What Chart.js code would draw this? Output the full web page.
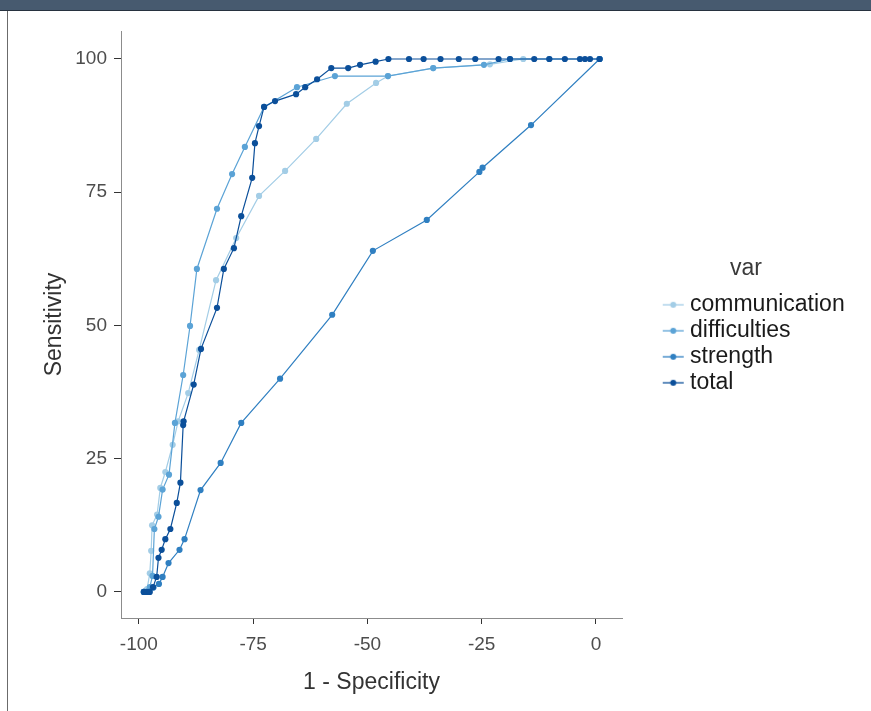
<!DOCTYPE html>
<html><head><meta charset="utf-8">
<script src="https://cdn.jsdelivr.net/npm/chart.js@4"></script>
<style>
html,body{margin:0;padding:0;background:#fff;}
#wrap{position:relative;width:871px;height:711px;overflow:hidden;background:#fff;}
#bar{position:absolute;left:0;top:0;width:871px;height:10px;background:#475a6f;border-bottom:1px solid #27323f;z-index:2;}
#edge{position:absolute;left:7px;top:11px;width:1px;height:700px;background:#6b6b6b;z-index:2;}
canvas{position:absolute;left:0;top:0;}
</style></head><body>
<div id="wrap"><canvas id="c" width="871" height="711"></canvas><div id="bar"></div><div id="edge"></div></div>
<script>
// ---- data ----
const seriesNames = ['communication', 'difficulties', 'strength', 'total'];

const communicationX = [-98.9, -98.2, -97.6, -97.3, -97.1, -96.0, -95.3, -94.2, -92.6, -91.4, -89.2, -86.8, -83.1, -78.7, -73.7, -68.0, -61.2, -54.5, -48.1, -45.5, -35.6, -23.2, -15.9, 0.8];
const communicationY = [0, 0.5, 3.5, 7.7, 12.5, 14.5, 19.5, 22.5, 27.6, 32.0, 37.3, 45.4, 58.5, 66.4, 74.3, 79.0, 85.0, 91.6, 95.5, 96.8, 98.3, 99.0, 100, 100];

const difficultiesX = [-98.9, -98.3, -97.6, -97.0, -96.6, -95.7, -94.8, -93.4, -92.1, -90.3, -88.8, -87.3, -82.9, -79.6, -76.8, -72.6, -65.4, -57.1, -45.5, -35.6, -24.5, -18.8, -10.2, 0.8];
const difficultiesY = [0, 0, 0.9, 3.0, 11.8, 14.1, 19.2, 22.0, 31.7, 40.7, 49.9, 60.6, 71.9, 78.4, 83.5, 91.0, 94.7, 96.8, 96.8, 98.3, 98.9, 100, 100, 100];

const strengthX = [-98.9, -97.8, -96.8, -95.6, -94.8, -93.5, -91.1, -90.0, -86.5, -82.1, -77.6, -69.1, -57.7, -48.8, -37.0, -25.5, -24.8, -14.2, 0.8];
const strengthY = [0, 0, 0.8, 1.5, 2.8, 5.4, 7.9, 9.9, 19.1, 24.2, 31.7, 40.0, 52.0, 64.0, 69.8, 78.8, 79.6, 87.6, 100];

const totalX = [-98.9, -98.3, -97.6, -96.9, -96.1, -95.7, -95.0, -94.2, -93.1, -91.7, -90.9, -90.3, -90.2, -88.0, -86.4, -82.9, -81.4, -79.2, -77.6, -75.2, -74.6, -73.7, -72.6, -70.2, -65.6, -63.6, -61.0, -57.9, -54.2, -51.6, -48.2, -45.4, -40.9, -37.7, -34.0, -30.0, -26.4, -21.3, -18.8, -13.5, -10.2, -6.8, -3.5, -2.4, -1.3, 0.8];
const totalY = [0, 0, 0, 0.9, 2.8, 6.4, 7.9, 9.9, 11.8, 16.7, 20.5, 31.3, 32.0, 38.9, 45.6, 53.3, 60.6, 64.5, 70.5, 77.7, 84.2, 87.4, 91.0, 92.1, 93.4, 94.7, 96.2, 98.3, 98.3, 98.9, 99.5, 100, 100, 100, 100, 100, 100, 100, 100, 100, 100, 100, 100, 100, 100, 100];

const xTicks = [-100, -75, -50, -25, 0];
const yTicks = [0, 25, 50, 75, 100];
const xTitle = '1 - Specificity';
const yTitle = 'Sensitivity';
const legendTitle = 'var';

// ---- styling ----
const FAMILY = '"Liberation Sans", Arial, Helvetica, sans-serif';
const colors = ['#a3cde6', '#5ba3d6', '#2f7fc1', '#0b4f9a'];
const seriesX = [communicationX, difficultiesX, strengthX, totalX];
const seriesY = [communicationY, difficultiesY, strengthY, totalY];

function makeSymbol(color) {
  const c = document.createElement('canvas');
  c.width = 66; c.height = 12;
  const g = c.getContext('2d');
  g.strokeStyle = color; g.lineWidth = 1.3;
  g.beginPath(); g.moveTo(44, 6); g.lineTo(65, 6); g.stroke();
  g.fillStyle = color;
  g.beginPath(); g.arc(54.5, 6, 3, 0, Math.PI * 2); g.fill();
  return c;
}
const symbols = colors.map(makeSymbol);

const datasets = seriesNames.map((name, i) => ({
  label: name,
  data: seriesX[i].map((x, k) => ({x: x, y: seriesY[i][k]})),
  showLine: true,
  borderColor: colors[i],
  backgroundColor: colors[i],
  borderWidth: 1.2,
  pointRadius: 3.1,
  pointBorderWidth: 0,
  pointBackgroundColor: colors[i],
  order: seriesNames.length - 1 - i
}));

const legendTitlePlugin = {
  id: 'legendTitleVar',
  afterLayout(chart) {
    // widen the legend's drawing box so long labels are not clipped
    const lg = chart.legend;
    if (lg) { lg.right = chart.width; lg.width = lg.right - lg.left; }
  },
  afterDraw(chart) {
    const lg = chart.legend;
    if (!lg || !lg.legendHitBoxes || !lg.legendHitBoxes.length) return;
    const hb = lg.legendHitBoxes[0];
    const ctx = chart.ctx;
    ctx.save();
    ctx.font = '23px ' + FAMILY;
    ctx.fillStyle = '#3a3a3a';
    ctx.textAlign = 'center';
    ctx.textBaseline = 'middle';
    ctx.fillText(legendTitle, 746, hb.top + 11.5 - 36);
    ctx.restore();
  }
};

new Chart(document.getElementById('c'), {
  type: 'scatter',
  data: {datasets: datasets},
  plugins: [legendTitlePlugin],
  options: {
    responsive: false,
    animation: false,
    events: [],
    layout: {padding: {top: 31, right: 871 - 622 / 0.75, bottom: 0, left: 0}},
    plugins: {
      tooltip: {enabled: false},
      legend: {
        display: true,
        position: 'right',
        align: 'center',
        fullSize: false,
        title: {display: true, text: '', font: {size: 23, family: FAMILY}, padding: {top: 6, bottom: 5}},
        labels: {
          usePointStyle: true,
          pointStyleWidth: 53.5,
          padding: 3,
          color: '#1a1a1a',
          font: {size: 23, family: FAMILY},
          sort: (a, b) => a.datasetIndex - b.datasetIndex,
          generateLabels(chart) {
            const items = Chart.defaults.plugins.legend.labels.generateLabels(chart);
            items.forEach(it => { it.pointStyle = symbols[it.datasetIndex]; it.lineWidth = 0; });
            return items;
          }
        }
      }
    },
    scales: {
      x: {
        type: 'linear',
        min: -103.9, max: 5.7,
        afterBuildTicks: s => { s.ticks = xTicks.map(v => ({value: v})); },
        afterFit: s => { s.height = 93; },
        border: {display: true, color: '#8c8c8c', width: 1},
        grid: {display: true, drawOnChartArea: false, drawTicks: true, tickLength: 6, tickColor: '#333', tickWidth: 1},
        ticks: {color: '#4d4d4d', font: {size: 19, family: FAMILY}, padding: 9, maxRotation: 0, autoSkip: false, callback: v => String(v)},
        title: {display: true, text: xTitle, color: '#333', font: {size: 23, family: FAMILY}, padding: {top: 0, bottom: 15}}
      },
      y: {
        type: 'linear',
        min: -4.9, max: 105.25,
        afterBuildTicks: s => { s.ticks = yTicks.map(v => ({value: v})); },
        afterFit: s => { s.width = 121; },
        border: {display: true, color: '#8c8c8c', width: 1},
        grid: {display: true, drawOnChartArea: false, drawTicks: true, tickLength: 7, tickColor: '#333', tickWidth: 1},
        ticks: {color: '#4d4d4d', font: {size: 19, family: FAMILY}, padding: 7, autoSkip: false, callback: v => String(v)},
        title: {display: true, text: yTitle, color: '#333', font: {size: 23, family: FAMILY}, padding: {top: 41, bottom: 0}}
      }
    }
  }
});
</script>
</body></html>
